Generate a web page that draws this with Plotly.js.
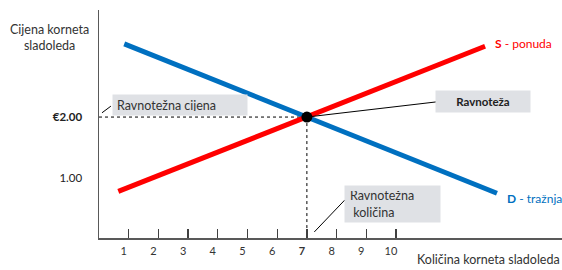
<!DOCTYPE html>
<html>
<head>
<meta charset="utf-8">
<script src="https://cdn.plot.ly/plotly-3.0.1.min.js"></script>
<style>html,body{margin:0;padding:0;background:#fff;}#chart{width:562px;height:270px;}</style>
</head>
<body>
<div id="chart"></div>
<script>
// Data
const supplyQ = [0.65, 13.0];
const supplyP = [0.77, 3.17];
const demandQ = [0.85, 13.4];
const demandP = [3.21, 0.74];
const eqQ = [7];
const eqP = [2];
const xTickVals = [1, 2, 3, 4, 5, 6, 7, 8, 9, 10];
const xTickText = ['1', '2', '3', '4', '5', '6', '<b>7</b>', '8', '9', '10'];
const yTickVals = [1, 2];
const yTickText = ['1.00', '<b>€2.00</b>'];
const supplyLabel = '<b>S</b> - ponuda';
const demandLabel = '<b>D</b> - tražnja';
const eqPriceLabel = 'Ravnotežna cijena';
const eqLabel = '<b>Ravnoteža</b>';
const eqQtyLabel = 'Ravnotežna<br>&nbsp;količina';
const yTitle = 'Cijena korneta<br>sladoleda';
const xTitle = 'Količina korneta sladoleda';

const FONT = 'Lato, "Open Sans", sans-serif';
const RED = '#ff0000';
const BLUE = '#0070c0';
const BOX = '#dfe1e5';

const traces = [
  {x: [0, eqQ[0]], y: [eqP[0], eqP[0]], mode: 'lines', line: {color: '#000', width: 1, dash: 'dot'}, hoverinfo: 'skip'},
  {x: [eqQ[0], eqQ[0]], y: [eqP[0], 0], mode: 'lines', line: {color: '#000', width: 1, dash: 'dot'}, hoverinfo: 'skip'},
  {x: demandQ, y: demandP, mode: 'lines', line: {color: BLUE, width: 5}},
  {x: supplyQ, y: supplyP, mode: 'lines', line: {color: RED, width: 5}},
  {x: eqQ, y: eqP, mode: 'markers', marker: {color: '#000', size: 11}}
];

// leader lines (data coords)
const leaders = [
  {x0: 0.10, y0: 2.07, x1: 0.40, y1: 2.18},
  {x0: eqQ[0], y0: eqP[0], x1: 11.35, y1: 2.25},
  {x0: 7.25, y0: 0.10, x1: 8.28, y1: 0.63}
];

const layout = {
  width: 562, height: 270,
  margin: {l: 99, r: 0, t: 10, b: 32},
  paper_bgcolor: '#fff', plot_bgcolor: '#fff',
  showlegend: false,
  font: {family: FONT, color: '#333', size: 11},
  xaxis: {
    range: [0, 15.59], showgrid: false, zeroline: false,
    showline: true, linecolor: '#595959', linewidth: 1.5,
    tickmode: 'array', tickvals: xTickVals, ticktext: xTickText,
    ticks: 'inside', ticklen: 9, tickwidth: 1.3, tickcolor: '#404040',
    ticklabelshift: -5, ticklabelstandoff: 2,
    tickfont: {family: FONT, size: 11, color: '#333'}
  },
  yaxis: {
    range: [0, 3.77], showgrid: false, zeroline: false,
    showline: true, linecolor: '#595959', linewidth: 1.5,
    tickmode: 'array', tickvals: yTickVals, ticktext: yTickText,
    ticks: '', ticklabelstandoff: 13,
    tickfont: {family: FONT, size: 11.5, color: '#222'}
  },
  shapes: leaders.map(l => Object.assign({type: 'line', xref: 'x', yref: 'y', line: {color: '#000', width: 1}}, l)),
  annotations: [
    {xref: 'paper', yref: 'paper', x: -0.106, y: 0.88, xanchor: 'center', yanchor: 'middle', text: yTitle, showarrow: false, align: 'center', font: {family: FONT, size: 12.5, color: '#333'}},
    {xref: 'paper', yref: 'paper', x: 1, y: -0.096, xanchor: 'right', yanchor: 'middle', text: xTitle, showarrow: false, font: {family: FONT, size: 12.5, color: '#333'}},
    {x: 13.27, y: 3.22, xanchor: 'left', text: supplyLabel, showarrow: false, font: {family: FONT, size: 12, color: RED}},
    {x: 13.68, y: 0.645, xanchor: 'left', text: demandLabel, showarrow: false, font: {family: FONT, size: 12, color: BLUE}},
    {x: 2.72, y: 2.20, text: eqPriceLabel, showarrow: false, bgcolor: BOX, borderpad: 4, width: 126, height: 12, align: 'left', font: {family: FONT, size: 12.5, color: '#333'}},
    {x: 12.93, y: 2.26, text: eqLabel, showarrow: false, bgcolor: BOX, borderpad: 3, width: 88, height: 15, align: 'center', font: {family: FONT, size: 11.5, color: '#222'}},
    {x: 9.88, y: 0.56, text: eqQtyLabel, showarrow: false, bgcolor: BOX, borderpad: 5, width: 85, height: 26, align: 'left', font: {family: FONT, size: 12.5, color: '#333'}}
  ]
};

Plotly.newPlot('chart', traces, layout, {displayModeBar: false, staticPlot: true});
</script>
</body>
</html>
